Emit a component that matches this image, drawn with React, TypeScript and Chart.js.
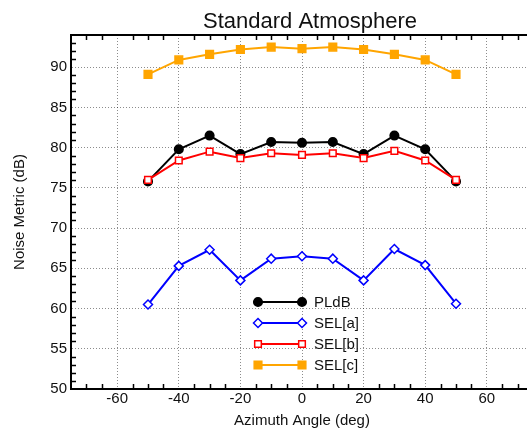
import React, { useEffect, useRef } from 'react';
import { Chart, registerables } from 'chart.js';

Chart.register(...registerables);

const angles = [-50, -40, -30, -20, -10, 0, 10, 20, 30, 40, 50];
const pldb = [75.8, 79.8, 81.5, 79.2, 80.7, 80.6, 80.7, 79.2, 81.5, 79.8, 75.8];
const selA = [60.5, 65.3, 67.3, 63.5, 66.2, 66.5, 66.2, 63.5, 67.4, 65.4, 60.6];
const selB = [76.0, 78.4, 79.5, 78.7, 79.3, 79.1, 79.3, 78.7, 79.6, 78.4, 76.0];
const selC = [89.1, 90.9, 91.6, 92.2, 92.5, 92.3, 92.5, 92.2, 91.6, 90.9, 89.1];
const seriesNames = ['PLdB', 'SEL[a]', 'SEL[b]', 'SEL[c]'];
const xTicks = [-60, -40, -20, 0, 20, 40, 60];
const yTicks = [50, 55, 60, 65, 70, 75, 80, 85, 90];
const xRange = [-75, 75];
const yRange = [50, 94];
const titleText = 'Standard Atmosphere';
const xTitle = 'Azimuth Angle (deg)';
const yTitle = 'Noise Metric (dB)';

const FONT = '"Liberation Sans", Arial, Helvetica, sans-serif';

function drawMarker(ctx: CanvasRenderingContext2D, style: string, x: number, y: number, r: number, fill: string, stroke: string, lw: number) {
  ctx.save();
  ctx.beginPath();
  if (style === 'circle') {
    ctx.arc(x, y, r, 0, Math.PI * 2);
  } else if (style === 'rect') {
    const s = r * Math.SQRT1_2;
    ctx.rect(x - s, y - s, 2 * s, 2 * s);
  } else if (style === 'rectRot') {
    ctx.moveTo(x - r, y);
    ctx.lineTo(x, y - r);
    ctx.lineTo(x + r, y);
    ctx.lineTo(x, y + r);
    ctx.closePath();
  }
  ctx.fillStyle = fill;
  ctx.fill();
  ctx.lineWidth = lw;
  ctx.strokeStyle = stroke;
  ctx.stroke();
  ctx.restore();
}

const framePlugin = {
  id: 'frame',
  afterDraw(chart: any) {
    const { ctx, chartArea: a, scales } = chart;
    const xs = scales.x;
    const ys = scales.y;
    ctx.save();
    ctx.strokeStyle = '#000';
    ctx.lineWidth = 2;
    ctx.beginPath();
    ctx.moveTo(a.left - 1, a.top);
    ctx.lineTo(a.right, a.top);
    ctx.lineTo(a.right, a.bottom);
    ctx.stroke();
    ctx.lineWidth = 1.5;
    ctx.beginPath();
    for (let v = xRange[0] + 5; v < xRange[1]; v += 5) {
      if (v % 20 === 0) continue;
      const px = Math.round(xs.getPixelForValue(v)) + 0.5;
      ctx.moveTo(px, a.bottom);
      ctx.lineTo(px, a.bottom - 5);
      ctx.moveTo(px, a.top);
      ctx.lineTo(px, a.top + 5);
    }
    for (let v = yRange[0] + 1; v < yRange[1]; v += 1) {
      if (v % 5 === 0) continue;
      const py = Math.round(ys.getPixelForValue(v)) + 0.5;
      ctx.moveTo(a.left, py);
      ctx.lineTo(a.left + 5, py);
      ctx.moveTo(a.right, py);
      ctx.lineTo(a.right - 5, py);
    }
    ctx.stroke();

    // title
    ctx.fillStyle = '#111';
    ctx.font = `22px ${FONT}`;
    ctx.textAlign = 'center';
    ctx.textBaseline = 'alphabetic';
    ctx.fillText(titleText, 310, 28);

    // legend
    const lx0 = a.left + 187;
    const lx1 = a.left + 231;
    const ly0 = a.top + 267;
    const step = 21;
    ctx.font = `15px ${FONT}`;
    ctx.textAlign = 'left';
    ctx.textBaseline = 'middle';
    chart.data.datasets.forEach((ds: any, i: number) => {
      const y = ly0 + i * step;
      ctx.strokeStyle = ds.borderColor;
      ctx.lineWidth = ds.borderWidth;
      ctx.beginPath();
      ctx.moveTo(lx0, y);
      ctx.lineTo(lx1, y);
      ctx.stroke();
      drawMarker(ctx, ds.pointStyle, lx0, y, ds.pointRadius, ds.pointBackgroundColor, ds.pointBorderColor, ds.pointBorderWidth);
      drawMarker(ctx, ds.pointStyle, lx1, y, ds.pointRadius, ds.pointBackgroundColor, ds.pointBorderColor, ds.pointBorderWidth);
      ctx.fillStyle = '#111';
      ctx.fillText(ds.label, lx1 + 12, y + 1);
    });
    ctx.restore();
  },
};

function toPoints(vals: number[]) {
  return angles.map((x, i) => ({ x, y: vals[i] }));
}

export default function App() {
  const ref = useRef<HTMLCanvasElement | null>(null);
  useEffect(() => {
    document.body.style.margin = '0';
    document.body.style.overflow = 'hidden';
    const canvas = ref.current;
    if (!canvas) return;
    const colors = ['#000000', '#0000ff', '#ff0000', '#ffa500'];
    const styles = ['circle', 'rectRot', 'rect', 'rect'];
    const fills = ['#000000', '#ffffff', '#ffffff', '#ffa500'];
    const radii = [4.3, 4.5, 4.7, 5.4];
    const orders = [2, 3, 1, 0];
    const all = [pldb, selA, selB, selC];
    const chart = new Chart(canvas, {
      type: 'line',
      data: {
        datasets: all.map((vals, i) => ({
          label: seriesNames[i],
          data: toPoints(vals),
          borderColor: colors[i],
          borderWidth: 2,
          pointStyle: styles[i],
          pointRadius: radii[i],
          pointBackgroundColor: fills[i],
          pointBorderColor: colors[i],
          pointBorderWidth: 1.5,
          order: orders[i],
          tension: 0,
        })),
      },
      options: {
        animation: false,
        responsive: false,
        devicePixelRatio: 1,
        layout: { padding: { top: 35, right: 7, left: 0, bottom: 0 } },
        plugins: {
          legend: { display: false },
          title: { display: false },
          tooltip: { enabled: false },
        },
        scales: {
          x: {
            type: 'linear',
            min: xRange[0],
            max: xRange[1],
            afterBuildTicks: (s: any) => {
              s.ticks = xTicks.map((v) => ({ value: v }));
            },
            afterFit: (s: any) => {
              s.height = 44;
            },
            grid: { color: 'rgba(0,0,0,0.45)', lineWidth: 1, drawTicks: false },
            border: { display: true, color: '#000', width: 2, dash: [1, 2] },
            ticks: { padding: 1, color: '#111', font: { size: 15, family: FONT }, maxRotation: 0, autoSkip: false },
            title: { display: true, text: xTitle, color: '#111', font: { size: 15, family: FONT }, padding: { top: 0, bottom: 3 } },
          },
          y: {
            type: 'linear',
            min: yRange[0],
            max: yRange[1],
            afterBuildTicks: (s: any) => {
              s.ticks = yTicks.map((v) => ({ value: v }));
            },
            afterFit: (s: any) => {
              s.width = 71;
            },
            grid: { color: 'rgba(0,0,0,0.45)', lineWidth: 1, drawTicks: false },
            border: { display: true, color: '#000', width: 2, dash: [1, 2] },
            ticks: { padding: 4, color: '#111', font: { size: 15, family: FONT }, autoSkip: false },
            title: { display: true, text: yTitle, color: '#111', font: { size: 15, family: FONT }, padding: { top: 11, bottom: 0 } },
          },
        },
      },
      plugins: [framePlugin],
    } as any);
    return () => chart.destroy();
  }, []);
  return (
    <div style={{ width: 527, height: 433, overflow: 'hidden', background: '#fff' }}>
      <canvas ref={ref} width={540} height={433} style={{ display: 'block', width: 540, height: 433 }} />
    </div>
  );
}
